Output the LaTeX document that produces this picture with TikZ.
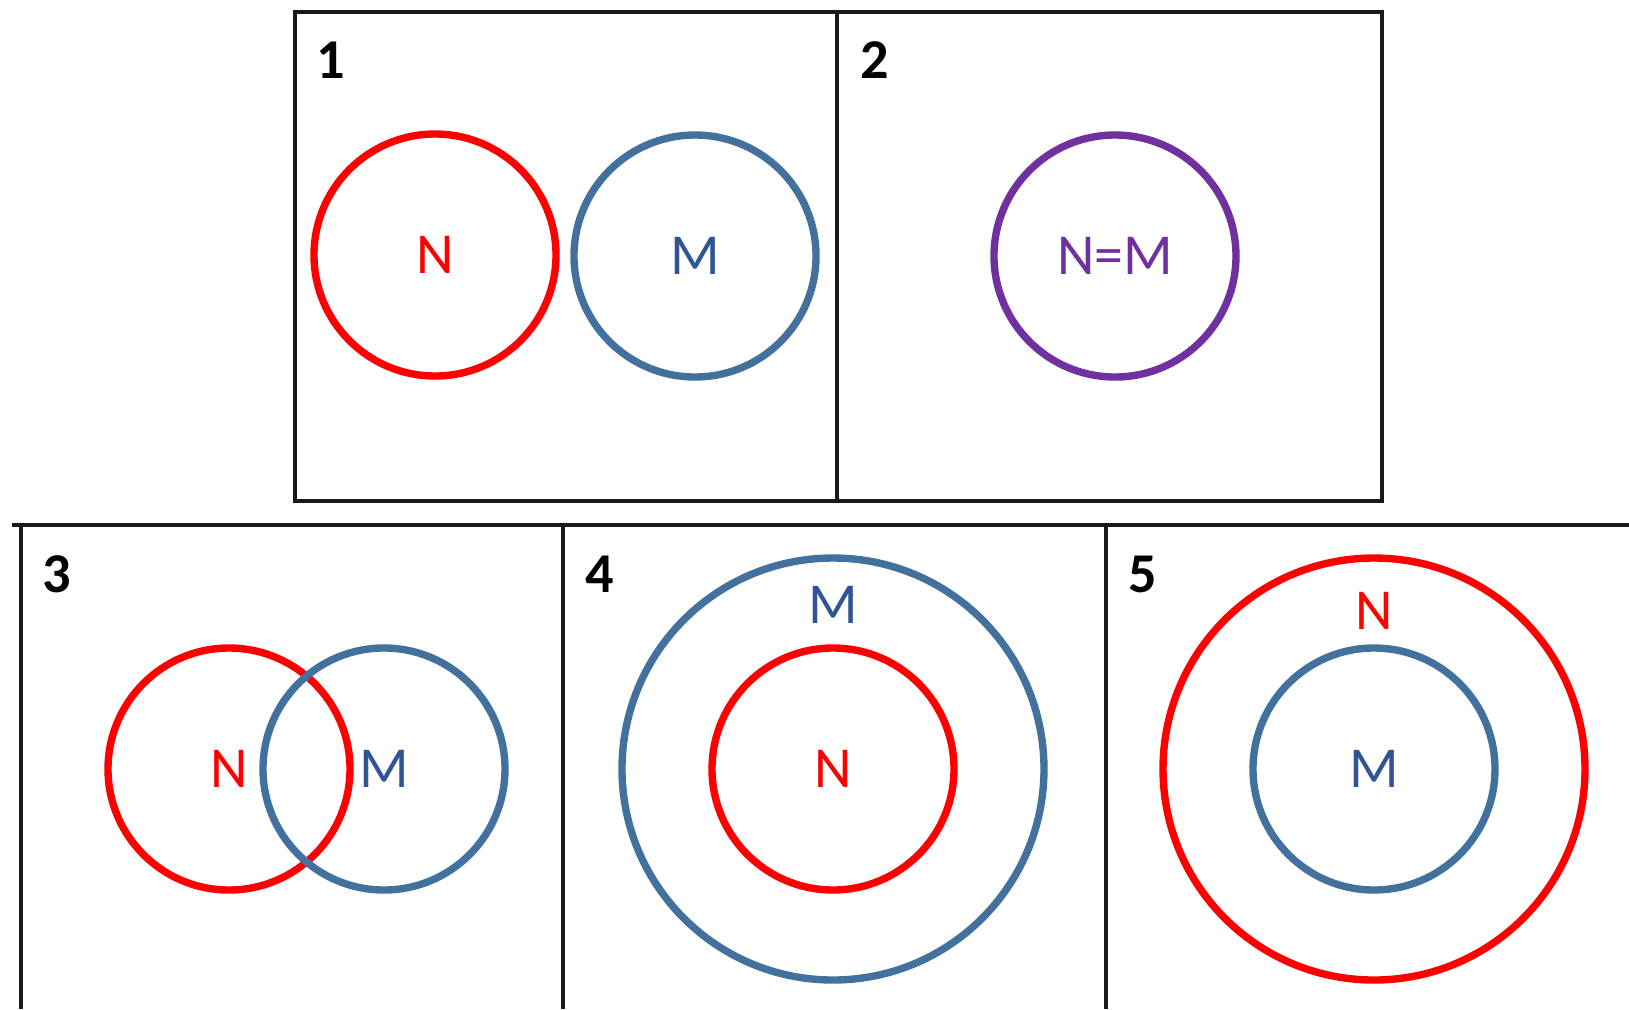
\documentclass[tikz,border=0pt]{standalone}
\usepackage{fontspec}
\setmainfont{Carlito}
\usepackage{xcolor}
\usetikzlibrary{math}
\definecolor{setred}{RGB}{255,0,0}
\definecolor{setblue}{RGB}{65,113,156}
\definecolor{textblue}{RGB}{47,85,151}
\definecolor{setpurple}{RGB}{112,48,160}

\tikzset{
  frame/.style={line width=1.8pt, black!90},
  setN/.style={circle, draw=setred, line width=4.2pt, text=setred, inner sep=0pt, font=\fontsize{33}{36}\selectfont},
  setM/.style={circle, draw=setblue, line width=4.2pt, text=textblue, inner sep=0pt, font=\fontsize{33}{36}\selectfont},
  setNM/.style={circle, draw=setpurple, line width=4.2pt, text=setpurple, inner sep=0pt, font=\fontsize{33}{36}\selectfont},
  caseno/.style={font=\bfseries\fontsize{32}{36}\selectfont},
}

\begin{document}
\begin{tikzpicture}[x=0.02cm, y=-0.02cm]
\tikzmath{
\r=2*121*0.02;
\R=2*211*0.02;
}
\useasboundingbox (0,0) rectangle (1629,1009);

% frames
\draw[frame] (295,12) rectangle (1382,501);
\draw[frame] (837,12) -- (837,501);
\draw[frame] (12,525) -- (1629,525);
\draw[frame] (21,525) -- (21,1009);
\draw[frame] (563,525) -- (563,1009);
\draw[frame] (1106,525) -- (1106,1009);

% case numbers
\node[caseno] (no1) at (331,60) {1};
\node[caseno] (no2) at (875,60) {2};
\node[caseno] (no3) at (57,574) {3};
\node[caseno] (no4) at (600,574) {4};
\node[caseno] (no5) at (1143,574) {5};

% 1: disjoint
\node[setN, minimum size=\r cm] (n1) at (435,255) {N};
\node[setM, minimum size=\r cm] (m1) at (695,256) {M};

% 2: equal
\node[setNM, minimum size=\r cm] (nm2) at (1115,256) {N=M};

% 3: overlapping
\node[setN, minimum size=\r cm] (n3) at (229,769) {N};
\node[setM, minimum size=\r cm] (m3) at (384,769) {M};

% 4: N inside M
\node[setM, minimum size=\R cm] (m4) at (833,769) {};
\node[setN, minimum size=\r cm] (n4) at (833,769) {N};
\node[text=textblue, font=\fontsize{33}{36}\selectfont] (m4label) at (833,605) {M};

% 5: M inside N
\node[setN, minimum size=\R cm] (n5) at (1374,769) {};
\node[setM, minimum size=\r cm] (m5) at (1374,769) {M};
\node[text=setred, font=\fontsize{33}{36}\selectfont] (n5label) at (1374,611) {N};

\end{tikzpicture}
\end{document}
